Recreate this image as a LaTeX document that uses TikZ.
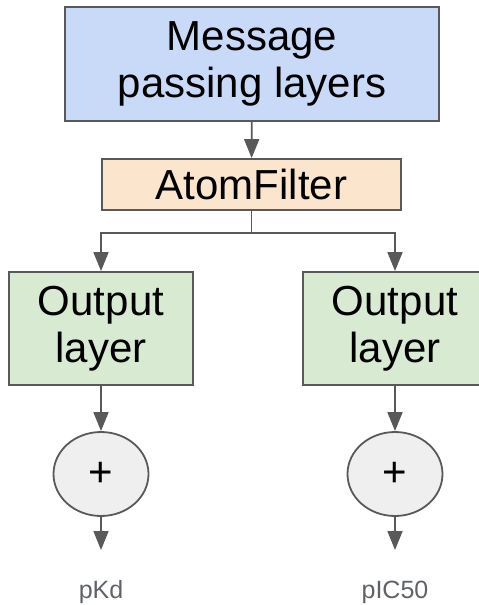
\documentclass[tikz,border=0pt]{standalone}
\usepackage{fontspec}
\setmainfont{Liberation Sans}
\usetikzlibrary{arrows.meta,shapes.geometric}
\definecolor{mpblue}{HTML}{C9DAF8}
\definecolor{afpeach}{HTML}{FCE5CD}
\definecolor{outgreen}{HTML}{D9EAD3}
\definecolor{sumgrey}{HTML}{EFEFEF}
\definecolor{edgegrey}{HTML}{595959}
\definecolor{labelgrey}{HTML}{5F6368}
\tikzset{
  x=1pt, y=1pt,
  block/.style={draw=edgegrey, line width=1.8pt, inner sep=0pt, align=center,
    font=\fontsize{42}{47}\selectfont},
  sumnode/.style={ellipse, draw=edgegrey, line width=1.8pt, fill=sumgrey,
    minimum width=95pt, minimum height=84pt, inner sep=0pt,
    font=\fontsize{42}{47}\selectfont},
  link/.style={draw=edgegrey, line width=1.8pt},
  flow/.style={link, -{Triangle[width=15pt,length=19pt]}},
  outlabel/.style={text=labelgrey, font=\fontsize{25}{30}\selectfont, anchor=base}
}
\begin{document}
\begin{tikzpicture}
\useasboundingbox (0,0) rectangle (479,-605);

% stacked model stages
\node[block, fill=mpblue, minimum width=374pt, minimum height=114pt] (mp) at (252,-64)
  {Message\\passing layers};
\node[block, fill=afpeach, minimum width=299pt, minimum height=51pt] (af) at (251.5,-184.5)
  {AtomFilter};
\node[block, fill=outgreen, minimum width=184pt, minimum height=113pt] (outL) at (101,-328.5)
  {Output\\layer};
\node[block, fill=outgreen, minimum width=184pt, minimum height=113pt] (outR) at (395,-328.5)
  {Output\\layer};

% summation nodes
\node[sumnode] (sumL) at (101,-474) {+};
\node[sumnode] (sumR) at (395,-474) {+};

% branch point and free arrow ends
\coordinate (split) at (251.5,-233);
\coordinate (endL) at (101,-550);
\coordinate (endR) at (395,-550);

% outputs
\node[outlabel] (pkd) at (101,-598) {pKd};
\node[outlabel] (pic) at (395,-598) {pIC50};

% connectors
\draw[flow] (mp) -- (af);
\draw[link] (af) -- (split);
\draw[flow] (split) -| (outL);
\draw[flow] (split) -| (outR);
\draw[flow] (outL) -- (sumL);
\draw[flow] (outR) -- (sumR);
\draw[flow] (sumL) -- (endL);
\draw[flow] (sumR) -- (endR);
\end{tikzpicture}
\end{document}
